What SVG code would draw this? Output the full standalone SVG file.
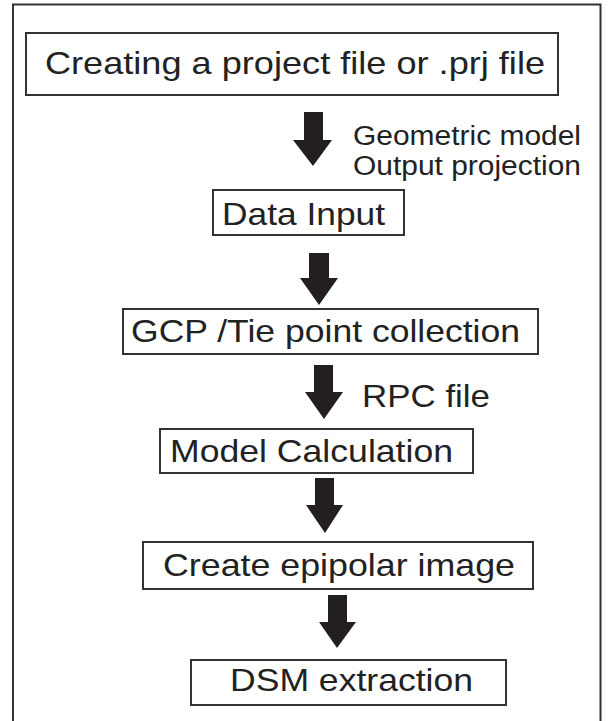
<svg xmlns="http://www.w3.org/2000/svg" width="608" height="721" viewBox="0 0 608 721">
<style>
.box{fill:#fff;stroke:#333;stroke-width:2}
.t{font-family:"Liberation Sans",Arial,sans-serif;font-size:32px;fill:#222}
.s{font-family:"Liberation Sans",Arial,sans-serif;font-size:27px;fill:#222}
.arr{fill:#231f20}
</style>
<rect width="608" height="721" fill="#fff"/>
<path d="M13 725 V4.5 H600.5 V725" fill="none" stroke="#333" stroke-width="2"/>
<g id="n1"><rect class="box" x="26" y="33" width="532" height="62"/><text class="t" x="45" y="74" textLength="500" lengthAdjust="spacingAndGlyphs">Creating a project file or .prj file</text></g>
<g id="n2"><rect class="box" x="213" y="190" width="191" height="45"/><text class="t" x="222" y="225" textLength="163" lengthAdjust="spacingAndGlyphs">Data Input</text></g>
<g id="n3"><rect class="box" x="123" y="309" width="415" height="45"/><text class="t" x="131" y="342" textLength="389" lengthAdjust="spacingAndGlyphs">GCP /Tie point collection</text></g>
<g id="n4"><rect class="box" x="160" y="429" width="313" height="44"/><text class="t" x="170" y="462" textLength="283" lengthAdjust="spacingAndGlyphs">Model Calculation</text></g>
<g id="n5"><rect class="box" x="143" y="542" width="390" height="47"/><text class="t" x="163" y="576" textLength="352" lengthAdjust="spacingAndGlyphs">Create epipolar image</text></g>
<g id="n6"><rect class="box" x="191" y="660" width="315" height="45"/><text class="t" x="230" y="691" textLength="243" lengthAdjust="spacingAndGlyphs">DSM extraction</text></g>
<g id="connectors">
<polygon class="arr" points="304,112 323,112 323,140 332,140 313,166 293,140 304,140"/>
<polygon class="arr" points="309,253 329,253 329,278 338,278 319,305 300,278 309,278"/>
<polygon class="arr" points="314,365 333,365 333,392 343,392 324,419 305,392 314,392"/>
<polygon class="arr" points="315,478 334,478 334,505 343,505 325,533 306,505 315,505"/>
<polygon class="arr" points="328,595 347,595 347,622 356,622 337,648 319,622 328,622"/>
<text class="s" x="353" y="145" textLength="228" lengthAdjust="spacingAndGlyphs">Geometric model</text>
<text class="s" x="353" y="175" textLength="228" lengthAdjust="spacingAndGlyphs">Output projection</text>
<text class="t" x="362" y="407" textLength="128" lengthAdjust="spacingAndGlyphs">RPC file</text>
</g>
</svg>
